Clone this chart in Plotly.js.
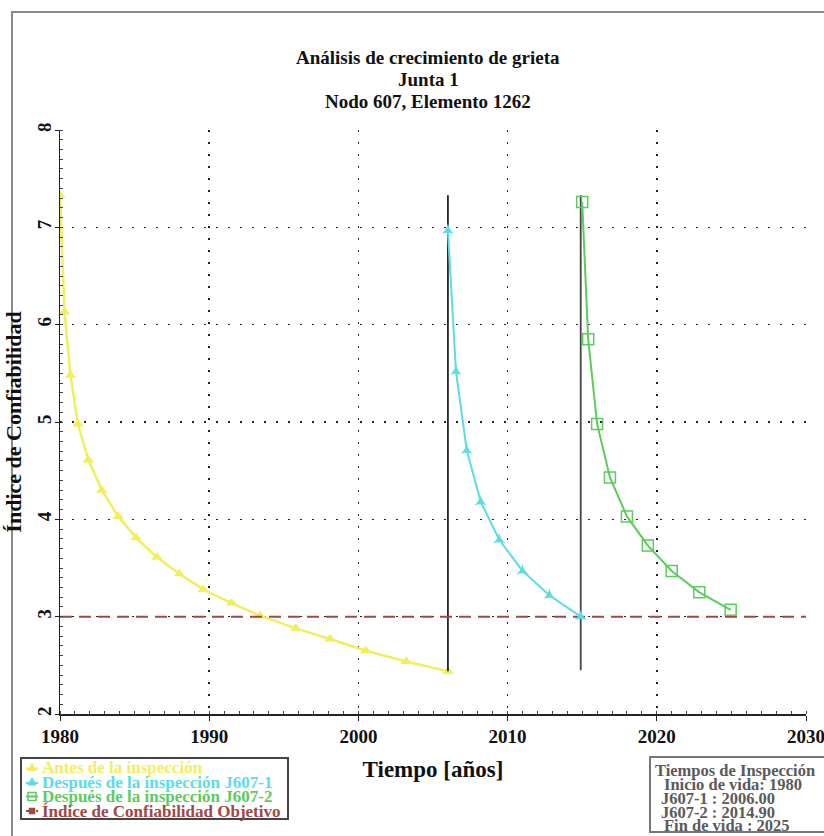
<!DOCTYPE html>
<html><head><meta charset="utf-8">
<script src="https://cdn.plot.ly/plotly-3.0.1.min.js"></script>
<style>html,body{margin:0;padding:0;background:#fff}#chart{width:824px;height:836px}</style>
</head><body><div id="chart"></div>
<script>
// ---- data ----
const antesX = [1980.0, 1980.3, 1980.7, 1981.2, 1981.9, 1982.8, 1983.9, 1985.1, 1986.5, 1988.0, 1989.6, 1991.5, 1993.4, 1995.8, 1998.1, 2000.5, 2003.2, 2006.0];
const antesY = [7.33, 6.13, 5.48, 4.98, 4.61, 4.30, 4.03, 3.81, 3.61, 3.44, 3.28, 3.14, 3.01, 2.88, 2.77, 2.65, 2.54, 2.44];
const j1X = [2006.0, 2006.54, 2007.26, 2008.2, 2009.44, 2011.0, 2012.8, 2014.9];
const j1Y = [6.97, 5.52, 4.71, 4.18, 3.79, 3.47, 3.22, 3.00];
const j2X = [2015.0, 2015.4, 2016.0, 2016.86, 2018.0, 2019.4, 2021.0, 2022.85, 2024.95];
const j2Y = [7.26, 5.85, 4.98, 4.43, 4.03, 3.73, 3.47, 3.25, 3.07];
const objetivoX = [1980, 2030];
const objetivoY = [3.0, 3.0];
const inicioVida = 1980;
const inspJ1 = 2006.00;
const inspJ2 = 2014.90;
const finVida = 2025;
const lineaJ1Y = [2.44, 7.33];
const lineaJ2Y = [2.45, 7.33];
const xTicks = [1980, 1990, 2000, 2010, 2020, 2030];
const yTicks = [2, 3, 4, 5, 6, 7, 8];
const tituloLineas = ["Análisis de crecimiento de grieta", "Junta 1", "Nodo 607, Elemento 1262"];
const legendLabels = ["Antes de la inspección", "Después de la inspección J607-1", "Después de la inspección J607-2", "Índice de Confiabilidad Objetivo"];
const boxLines = ["Tiempos de Inspección", "Inicio de vida: " + inicioVida, "J607-1 : " + inspJ1.toFixed(2), "J607-2 : " + inspJ2.toFixed(2), "Fin de vida : " + finVida];

// ---- styling ----
const SERIF = "Liberation Serif, Times New Roman, serif";
const cYellow = "#f2ee5c", cCyan = "#5cdce6", cGreen = "#5ccc5c", cRed = "#a04848";
const L = 60, R = 806, T = 130, B = 714, W = 824, H = 836;
const px = p => (p - L) / (R - L);
const py = p => (B - p) / (B - T);

const traces = [
  {x: antesX, y: antesY, mode: "lines+markers", name: legendLabels[0], showlegend: false,
   line: {color: cYellow, width: 2.5}, marker: {symbol: "triangle-up", size: 10, color: cYellow}},
  {x: [inspJ1, inspJ1], y: lineaJ1Y, mode: "lines", showlegend: false, hoverinfo: "skip",
   line: {color: "#222", width: 1.8}},
  {x: [inspJ2, inspJ2], y: lineaJ2Y, mode: "lines", showlegend: false, hoverinfo: "skip",
   line: {color: "#444", width: 1.8}},
  {x: objetivoX, y: objetivoY, mode: "lines", name: legendLabels[3], showlegend: false,
   line: {color: cRed, width: 2, dash: "12px,7px"}},
  {x: j1X, y: j1Y, mode: "lines+markers", name: legendLabels[1], showlegend: false,
   line: {color: cCyan, width: 2}, marker: {symbol: "star-triangle-up", size: 9, color: cCyan}},
  {x: j2X, y: j2Y, mode: "lines+markers", name: legendLabels[2], showlegend: false,
   line: {color: cGreen, width: 2}, marker: {symbol: "square-open", size: 11, color: cGreen, line: {width: 1.5}}}
];

const annotations = [];
// title lines
const titleY = [57, 79, 101];
tituloLineas.forEach((t, i) => annotations.push({
  xref: "paper", yref: "paper", x: px(428), y: py(titleY[i]), text: "<b>" + t + "</b>",
  showarrow: false, xanchor: "center", yanchor: "middle",
  font: {family: SERIF, size: 19, color: "#111"}
}));
// legend
const legColors = [cYellow, cCyan, cGreen, cRed];
const legY = [767.5, 782, 796.5, 811];
legendLabels.forEach((t, i) => annotations.push({
  xref: "paper", yref: "paper", x: px(40), y: py(legY[i]), text: "<b>" + t + "</b>",
  showarrow: false, xanchor: "left", yanchor: "middle",
  font: {family: SERIF, size: 17, color: legColors[i]}
}));
// inspection times box
const boxY = [770, 784, 798, 812, 826];
const boxX = [653, 662, 659, 659, 662];
boxLines.forEach((t, i) => annotations.push({
  xref: "paper", yref: "paper", x: px(boxX[i]), y: py(boxY[i]), text: "<b>" + t + "</b>",
  showarrow: false, xanchor: "left", yanchor: "middle",
  font: {family: SERIF, size: 16.5, color: "#5a5a5a"}
}));

const shapes = [
  // outer frame
  {type: "rect", xref: "paper", yref: "paper", x0: px(12), x1: px(840), y0: py(12), y1: py(850),
   line: {color: "#8a8a8a", width: 2}, layer: "below"},
  // legend frame
  {type: "rect", xref: "paper", yref: "paper", x0: px(21), x1: px(288), y0: py(758), y1: py(819),
   line: {color: "#444", width: 2}},
  // inspection box frame
  {type: "rect", xref: "paper", yref: "paper", x0: px(650), x1: px(830), y0: py(757), y1: py(832),
   line: {color: "#777", width: 2}}
];
// legend symbols
function legLine(cy, color, dash) {
  shapes.push({type: "line", xref: "paper", yref: "paper", x0: px(26), x1: px(38), y0: py(cy), y1: py(cy),
    line: {color: color, width: 2, dash: dash || "solid"}});
}
function legTri(cy, color) {
  const p = `M ${px(28)} ${py(cy + 3)} L ${px(36)} ${py(cy + 3)} L ${px(32)} ${py(cy - 4)} Z`;
  shapes.push({type: "path", xref: "paper", yref: "paper", path: p, fillcolor: color, line: {color: color, width: 1}});
}
function legSq(cy, color, filled, s) {
  shapes.push({type: "rect", xref: "paper", yref: "paper", x0: px(32 - s), x1: px(32 + s), y0: py(cy - s), y1: py(cy + s),
    fillcolor: filled ? color : "rgba(0,0,0,0)", line: {color: color, width: 1.5}});
}
legLine(legY[0] + 1, cYellow); legTri(legY[0], cYellow);
legLine(legY[1] + 1, cCyan); legTri(legY[1], cCyan);
legLine(legY[2], cGreen); legSq(legY[2], cGreen, false, 4);
legLine(legY[3], cRed, "3px,2px"); legSq(legY[3], cRed, true, 2.5);

const axisFont = {family: SERIF, size: 19, color: "#111", weight: "bold"};
const layout = {
  width: W, height: H,
  margin: {l: L, r: W - R, t: T, b: H - B},
  paper_bgcolor: "#fff", plot_bgcolor: "#fff",
  showlegend: false,
  xaxis: {
    range: [1980, 2030], tickvals: xTicks, ticktext: xTicks.map(String),
    tickfont: axisFont, ticks: "outside", ticklen: 5, tickcolor: "#222", ticklabeloverflow: "allow",
    showline: true, linecolor: "#222", linewidth: 1.5, zeroline: false,
    showgrid: true, gridcolor: "#222", gridwidth: 1.6, griddash: "2px,10px",
    minor: {dtick: 1, ticks: "inside", ticklen: 3, tickcolor: "#444", showgrid: false},
    title: {text: "<b>Tiempo [años]</b>", font: {family: SERIF, size: 23, color: "#111"}, standoff: 14}
  },
  yaxis: {
    range: [2, 8], tickvals: yTicks, ticktext: yTicks.map(String),
    tickfont: axisFont, tickangle: -90, ticks: "outside", ticklen: 4, tickcolor: "#222", ticklabeloverflow: "allow",
    ticklabelstandoff: -4,
    showline: true, linecolor: "#222", linewidth: 1.5, zeroline: false,
    showgrid: true, gridcolor: "#222", gridwidth: 1.6, griddash: "2px,10px",
    minor: {dtick: 0.1, ticks: "inside", ticklen: 3, tickcolor: "#444", showgrid: false},
    title: {text: "<b>Índice de Confiabilidad</b>", font: {family: SERIF, size: 22, color: "#111"}, standoff: 6}
  },
  annotations: annotations,
  shapes: shapes
};
Plotly.newPlot("chart", traces, layout, {displayModeBar: false, staticPlot: true});
</script></body></html>
